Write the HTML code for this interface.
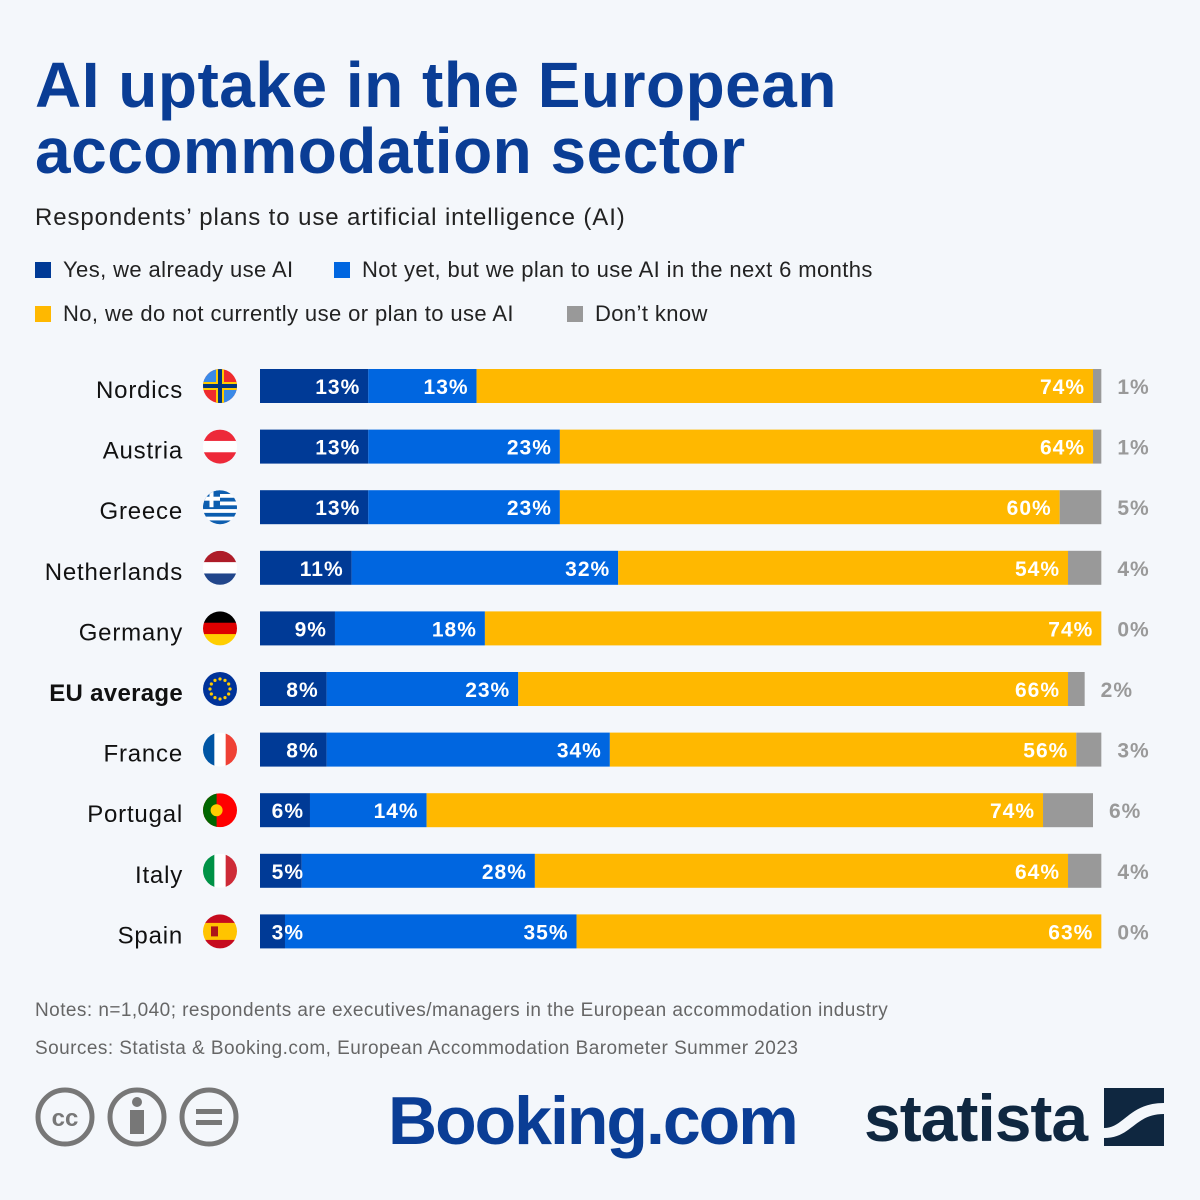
<!DOCTYPE html>
<html><head><meta charset="utf-8"><style>
body{margin:0;background:#f4f7fb;font-family:"Liberation Sans",sans-serif;}
#wrap{position:relative;width:1200px;height:1200px;overflow:hidden;}
.t{position:absolute;white-space:nowrap;}
h1{position:absolute;left:35px;top:52px;margin:0;font-size:64px;line-height:66px;color:#0a3d95;font-weight:bold;letter-spacing:0.5px;}
.leg{position:absolute;font-size:22px;color:#222;letter-spacing:0.4px;}
.sw{display:inline-block;width:16px;height:16px;vertical-align:-1px;margin-right:12px;}
</style></head><body>
<div id="wrap">
<h1>AI uptake in the European<br>accommodation sector</h1>
<div class="t" style="left:35px;top:204px;font-size:24px;color:#222;letter-spacing:0.9px">Respondents’ plans to use artificial intelligence (AI)</div>
<div class="leg" style="left:35px;top:257px"><span class="sw" style="background:#003a96"></span>Yes, we already use AI</div>
<div class="leg" style="left:334px;top:257px"><span class="sw" style="background:#0066e0"></span>Not yet, but we plan to use AI in the next 6 months</div>
<div class="leg" style="left:35px;top:301px"><span class="sw" style="background:#ffb800"></span>No, we do not currently use or plan to use AI</div>
<div class="leg" style="left:567px;top:301px"><span class="sw" style="background:#999"></span>Don’t know</div>
<svg id="chart" width="1200" height="1200" style="position:absolute;left:0;top:0" font-family="Liberation Sans, sans-serif"></svg>
<div class="t" style="left:35px;top:1000px;font-size:19px;color:#666;letter-spacing:0.45px">Notes: n=1,040; respondents are executives/managers in the European accommodation industry</div>
<div class="t" style="left:35px;top:1038px;font-size:19px;color:#666;letter-spacing:0.45px">Sources: Statista &amp; Booking.com, European Accommodation Barometer Summer 2023</div>
<svg width="220" height="70" style="position:absolute;left:34px;top:1084px">
<g fill="none" stroke="#777" stroke-width="5"><circle cx="31" cy="33" r="27"/><circle cx="103" cy="33" r="27"/><circle cx="175" cy="33" r="27"/></g>
<text x="31" y="42" text-anchor="middle" font-size="24" font-weight="bold" fill="#777">cc</text>
<circle cx="103" cy="18" r="5" fill="#777"/><rect x="96" y="26" width="14" height="24" fill="#777"/>
<rect x="162" y="25" width="26" height="5" fill="#777"/><rect x="162" y="36" width="26" height="5" fill="#777"/>
</svg>
<div class="t" style="left:388px;top:1082px;font-size:68px;font-weight:bold;color:#0a3d95;letter-spacing:-2px">Booking.com</div>
<div class="t" style="left:864px;top:1080px;font-size:66px;font-weight:bold;color:#0f2740;letter-spacing:-1px">statista</div>
<svg width="60" height="60" style="position:absolute;left:1104px;top:1088px"><rect width="60" height="58" fill="#0f2740"/><path d="M0 40 C20 40 25 15 60 15 L60 26 C30 26 28 50 0 50Z" fill="#f4f7fb"/></svg>
</div>
<script>
const categories=["Nordics","Austria","Greece","Netherlands","Germany","EU average","France","Portugal","Italy","Spain"];
const already=[13,13,13,11,9,8,8,6,5,3];
const plan=[13,23,23,32,18,23,34,14,28,35];
const no=[74,64,60,54,74,66,56,74,64,63];
const dontKnow=[1,1,5,4,0,2,3,6,4,0];
const NS="http://www.w3.org/2000/svg";
const svg=document.getElementById('chart');
const x0=260,pxPer=8.33,y0=386,step=60.6,bh=34;
const xs=v=>x0+v*pxPer;
const ys=i=>y0+i*step;
function el(t,a){const e=document.createElementNS(NS,t);for(const k in a)e.setAttribute(k,a[k]);svg.appendChild(e);return e;}
const colors=["#003a96","#0066e0","#ffb800","#999999"];
const segNames=["already","plan","no","dont-know"];
const flags=['nordic','austria','greece','nl','de','eu','fr','pt','it','es'];
const pending=[];
categories.forEach((c,i)=>{
  const y=ys(i);
  const lab=el('text',{x:183,y:y+12,'text-anchor':'end','font-size':24,fill:'#111','letter-spacing':c==='EU average'?0.3:0.8,'font-weight':c==='EU average'?'bold':'normal'});
  lab.textContent=c;
  
  
  const g=el('g',{});
  
  
  const cx=220,r=17;
  const clipId='cl'+i;
  const cp=el('clipPath',{id:clipId});cp.appendChild(document.createElementNS(NS,'circle'));cp.firstChild.setAttribute('cx',cx);cp.firstChild.setAttribute('cy',y);cp.firstChild.setAttribute('r',r);
  const f=flags[i];
  const add=(t,a)=>{const e=document.createElementNS(NS,t);for(const k in a)e.setAttribute(k,a[k]);e.setAttribute('clip-path','url(#'+clipId+')');g.appendChild(e);return e;};
  const stripesH=(cols)=>cols.forEach((col,k)=>add('rect',{x:cx-r,y:y-r+k*2*r/cols.length,width:2*r,height:2*r/cols.length+0.5,fill:col}));
  const stripesV=(cols)=>cols.forEach((col,k)=>add('rect',{x:cx-r+k*2*r/cols.length,y:y-r,width:2*r/cols.length+0.5,height:2*r,fill:col}));
  if(f==='nordic'){add('rect',{x:cx-r,y:y-r,width:2*r,height:2*r,fill:'#ef2b2d'});add('rect',{x:cx-r,y:y-r,width:r,height:r,fill:'#3a8ae8'});add('rect',{x:cx,y:y,width:r,height:r,fill:'#3a8ae8'});add('rect',{x:cx-r,y:y-4,width:2*r,height:8,fill:'#fecc00'});add('rect',{x:cx-4,y:y-r,width:8,height:2*r,fill:'#fecc00'});add('rect',{x:cx-r,y:y-2,width:2*r,height:4,fill:'#003580'});add('rect',{x:cx-2,y:y-r,width:4,height:2*r,fill:'#003580'});}
  else if(f==='austria')stripesH(['#ed2939','#fff','#ed2939']);
  else if(f==='greece'){stripesH(['#0d5eaf','#fff','#0d5eaf','#fff','#0d5eaf','#fff','#0d5eaf','#fff','#0d5eaf']);add('rect',{x:cx-r,y:y-r,width:r,height:r,fill:'#0d5eaf'});add('rect',{x:cx-r,y:y-r+r/2-2,width:r,height:4,fill:'#fff'});add('rect',{x:cx-r/2-2,y:y-r,width:4,height:r,fill:'#fff'});}
  else if(f==='nl')stripesH(['#ae1c28','#fff','#21468b']);
  else if(f==='de')stripesH(['#000','#dd0000','#ffce00']);
  else if(f==='eu'){add('rect',{x:cx-r,y:y-r,width:2*r,height:2*r,fill:'#003399'});for(let k=0;k<12;k++){const a=k*Math.PI/6;add('circle',{cx:cx+10*Math.cos(a),cy:y+10*Math.sin(a),r:1.6,fill:'#ffcc00'});}}
  else if(f==='fr')stripesV(['#0055a4','#fff','#ef4135']);
  else if(f==='pt'){add('rect',{x:cx-r,y:y-r,width:2*r,height:2*r,fill:'#ff0000'});add('rect',{x:cx-r,y:y-r,width:r*0.8,height:2*r,fill:'#006600'});add('circle',{cx:cx-r*0.2,cy:y,r:6,fill:'#ffcc00'});}
  else if(f==='it')stripesV(['#009246','#fff','#ce2b37']);
  else if(f==='es'){stripesH(['#c60b1e','#ffc400','#ffc400','#c60b1e']);add('rect',{x:cx-9,y:y-5,width:7,height:10,fill:'#ad1519'});}
  const vals=[already[i],plan[i],no[i],dontKnow[i]];
  let acc=0;
  vals.forEach((v,k)=>{
    const r2=el('rect',{x:xs(acc),y:y-bh/2,width:Math.max(0,xs(acc+v)-xs(acc)),height:bh,fill:colors[k]});
    
    
    acc+=v;
    if(k<3){
      const ex=k===0?Math.max(xs(acc)-8,x0+44):xs(acc)-8;
      pending.push({x:ex,y:y+8,anchor:'end',fill:'#fff',text:v+'%',name:'value-label-'+segNames[k]});
    }else{
      pending.push({x:xs(acc)+16,y:y+8,anchor:'start',fill:'#999',text:v+'%',name:'value-label-dont-know'});
    }
  });
});
pending.forEach(p=>{
  const t=el('text',{x:p.x,y:p.y,'text-anchor':p.anchor,'font-size':21,'font-weight':'bold',fill:p.fill,'letter-spacing':1});
  t.textContent=p.text;
  
  
});
</script>
</body></html>
